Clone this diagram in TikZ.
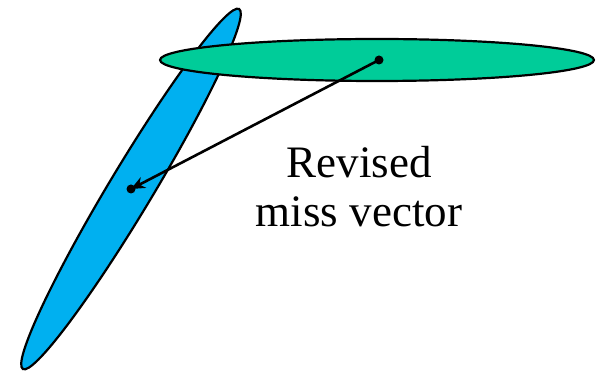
\documentclass[tikz,border=0pt]{standalone}
\usepackage{fontspec}
\setmainfont{Liberation Serif}
\usetikzlibrary{shapes.geometric,arrows.meta}
\definecolor{missblue}{HTML}{00B0F0}
\definecolor{missgreen}{HTML}{00CC99}
\begin{document}
\begin{tikzpicture}[x=1pt, y=-1pt,
	blob/.style = {ellipse, draw, line width=2.2pt, inner sep=0pt, outer sep=0pt}]
			\useasboundingbox (0, 0) rectangle (602, 371);

			\coordinate (bc) at (131, 189);
\coordinate (gc) at (377, 60);

			\node[blob, fill = missblue, minimum width = 420pt, minimum height = 44pt, rotate = 59] (blue) at (bc) {};
			\node[blob, fill = missgreen, minimum width = 434pt, minimum height = 42pt] (green) at (gc) {};
			\fill (blue.center) circle (4.5pt);
\fill (379, 60) coordinate (gd) circle (4.5pt);
			\draw[line width = 2.6pt, -{Stealth[length=14pt, width=12pt]}] (gd) -- (blue.center);

			\node[align = center, anchor = base, font = \fontsize{45}{49}\selectfont, inner sep = 0pt] (label) at (359, 227) {Revised\\miss vector};

		\end{tikzpicture}
\end{document}
